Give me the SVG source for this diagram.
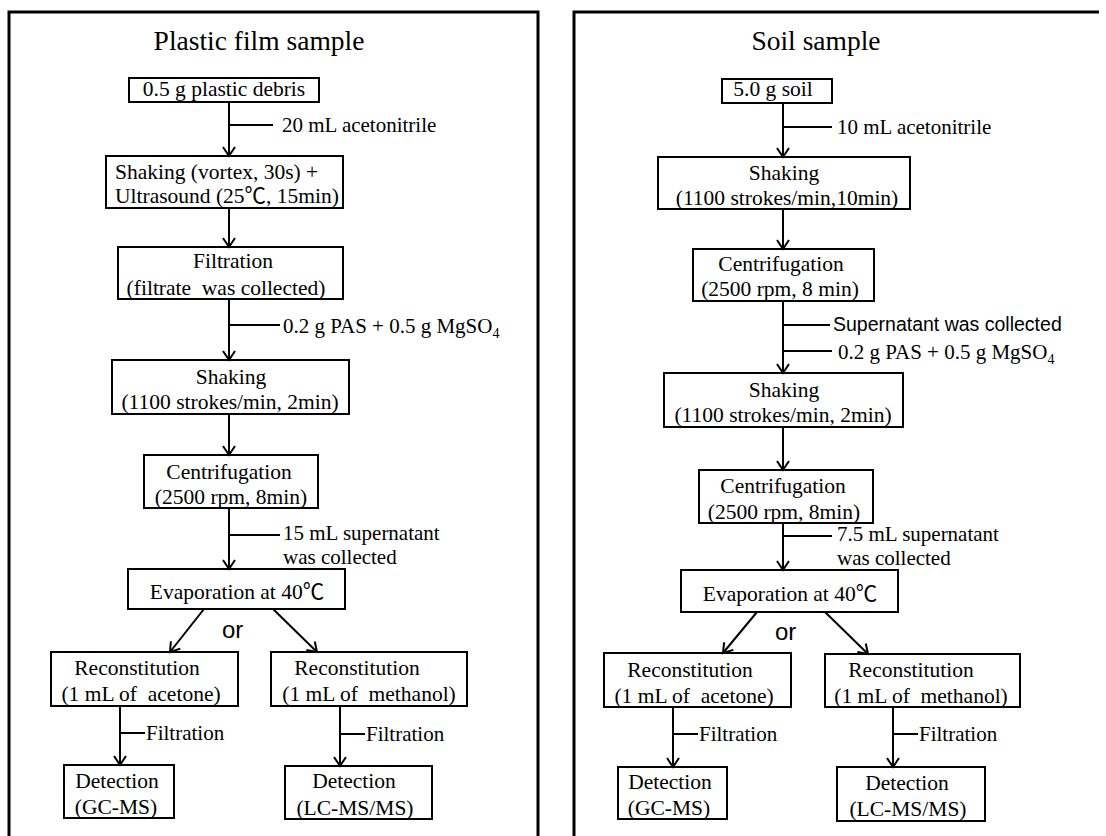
<svg xmlns="http://www.w3.org/2000/svg" width="1106" height="836" viewBox="0 0 1106 836">
<defs>
<style>
.bg{fill:#fff}
.panel{fill:none;stroke:#000;stroke-width:3}
.box{fill:#fff;stroke:#000;stroke-width:2}
.conn{fill:none;stroke:#000;stroke-width:2}
.arr{marker-end:url(#ah)}
text{font-family:"Liberation Serif","Noto Sans CJK SC",serif;font-size:21.5px;fill:#000}
.c{text-anchor:middle}
.lbl{font-size:21px}
.title{font-size:27.5px}
.sans{font-family:"Liberation Sans",sans-serif;font-size:19.5px}
.or{font-family:"Liberation Sans",sans-serif;font-size:24px}
.sub{font-size:14px}
</style>
<marker id="ah" markerUnits="userSpaceOnUse" markerWidth="20" markerHeight="20" viewBox="-10 -10 20 20" refX="0" refY="0" orient="auto" overflow="visible">
<path d="M-9,-6 L0,0 L-9,6" fill="none" stroke="#000" stroke-width="2"/>
</marker>
</defs>
<rect class="bg" x="0" y="0" width="1106" height="836"/>
<g id="panels">
<path class="panel" d="M9,840 V12 H538 V840"/>
<path class="panel" d="M574,840 V12 H1099"/>
<text class="title c" x="259" y="50">Plastic film sample</text>
<text class="title c" x="816" y="50">Soil sample</text>
</g>
<g id="p-debris"><rect class="box" x="129" y="78" width="190" height="24"/><text class="c" x="224" y="96">0.5 g plastic debris</text></g>
<g id="p-shake1"><rect class="box" x="106" y="156" width="237" height="52"/><text x="115" y="179">Shaking (vortex, 30s) +</text><text x="115" y="203">Ultrasound (25℃, 15min)</text></g>
<g id="p-filtration"><rect class="box" x="118" y="247" width="225" height="52"/><text class="c" x="233" y="268">Filtration</text><text class="c" x="226" y="295" xml:space="preserve">(filtrate  was collected)</text></g>
<g id="p-shake2"><rect class="box" x="112" y="360" width="237" height="54"/><text class="c" x="231" y="384">Shaking</text><text class="c" x="230" y="409">(1100 strokes/min, 2min)</text></g>
<g id="p-centri"><rect class="box" x="144" y="455" width="174" height="53"/><text class="c" x="229" y="479">Centrifugation</text><text class="c" x="231" y="504">(2500 rpm, 8min)</text></g>
<g id="p-evap"><rect class="box" x="128" y="569" width="217" height="40"/><text class="c" x="237" y="599">Evaporation at 40℃</text></g>
<g id="p-recon-ace"><rect class="box" x="51" y="652" width="187" height="54"/><text class="c" x="137" y="675">Reconstitution</text><text class="c" x="141" y="701" xml:space="preserve">(1 mL of  acetone)</text></g>
<g id="p-recon-met"><rect class="box" x="271" y="652" width="196" height="54"/><text class="c" x="357" y="675">Reconstitution</text><text class="c" x="369" y="701" xml:space="preserve">(1 mL of  methanol)</text></g>
<g id="p-det-gc"><rect class="box" x="64" y="765" width="110" height="53"/><text class="c" x="117" y="788">Detection</text><text class="c" x="116" y="814">(GC-MS)</text></g>
<g id="p-det-lc"><rect class="box" x="285" y="766" width="147" height="53"/><text class="c" x="354" y="788">Detection</text><text class="c" x="355" y="815">(LC-MS/MS)</text></g>
<g id="s-soil"><rect class="box" x="722" y="79" width="110" height="24"/><text class="c" x="773" y="96">5.0 g soil</text></g>
<g id="s-shake1"><rect class="box" x="658" y="157" width="252" height="52"/><text class="c" x="784" y="180">Shaking</text><text class="c" x="787" y="205">(1100 strokes/min,10min)</text></g>
<g id="s-centri1"><rect class="box" x="693" y="249" width="181" height="52"/><text class="c" x="781" y="271">Centrifugation</text><text class="c" x="780" y="296">(2500 rpm, 8 min)</text></g>
<g id="s-shake2"><rect class="box" x="664" y="373" width="239" height="54"/><text class="c" x="784" y="397">Shaking</text><text class="c" x="783" y="422">(1100 strokes/min, 2min)</text></g>
<g id="s-centri2"><rect class="box" x="699" y="470" width="174" height="53"/><text class="c" x="783" y="493">Centrifugation</text><text class="c" x="784" y="519">(2500 rpm, 8min)</text></g>
<g id="s-evap"><rect class="box" x="681" y="570" width="217" height="42"/><text class="c" x="790" y="601">Evaporation at 40℃</text></g>
<g id="s-recon-ace"><rect class="box" x="604" y="653" width="187" height="54"/><text class="c" x="690" y="677">Reconstitution</text><text class="c" x="694" y="703" xml:space="preserve">(1 mL of  acetone)</text></g>
<g id="s-recon-met"><rect class="box" x="825" y="654" width="195" height="53"/><text class="c" x="911" y="677">Reconstitution</text><text class="c" x="921" y="703" xml:space="preserve">(1 mL of  methanol)</text></g>
<g id="s-det-gc"><rect class="box" x="618" y="767" width="109" height="52"/><text class="c" x="670" y="789">Detection</text><text class="c" x="669" y="815">(GC-MS)</text></g>
<g id="s-det-lc"><rect class="box" x="837" y="767" width="148" height="54"/><text class="c" x="907" y="790">Detection</text><text class="c" x="908" y="816">(LC-MS/MS)</text></g>
<g id="connectors">
<path class="conn arr" d="M229,102 V156"/>
<path class="conn" d="M229,125 H273"/>
<path class="conn arr" d="M229,208 V247"/>
<path class="conn arr" d="M229,299 V360"/>
<path class="conn" d="M229,325 H280"/>
<path class="conn arr" d="M229,414 V455"/>
<path class="conn arr" d="M229,508 V569"/>
<path class="conn" d="M229,535 H280"/>
<path class="conn arr" d="M204,609 L170,652"/>
<path class="conn arr" d="M273,609 L317,652"/>
<path class="conn arr" d="M120,706 V765"/>
<path class="conn" d="M120,733 H145"/>
<path class="conn arr" d="M340,706 V766"/>
<path class="conn" d="M340,734 H365"/>
<path class="conn arr" d="M783,103 V157"/>
<path class="conn" d="M783,127 H832"/>
<path class="conn arr" d="M783,209 V249"/>
<path class="conn arr" d="M783,301 V373"/>
<path class="conn" d="M783,325 H830"/>
<path class="conn" d="M783,351 H832"/>
<path class="conn arr" d="M783,427 V470"/>
<path class="conn arr" d="M783,523 V570"/>
<path class="conn" d="M783,536 H832"/>
<path class="conn arr" d="M757,612 L723,653"/>
<path class="conn arr" d="M825,612 L868,654"/>
<path class="conn arr" d="M673,707 V767"/>
<path class="conn" d="M673,734 H698"/>
<path class="conn arr" d="M893,707 V767"/>
<path class="conn" d="M893,734 H918"/>
<text class="lbl" x="282" y="132">20 mL acetonitrile</text>
<text class="lbl" x="283" y="333">0.2 g PAS + 0.5 g MgSO<tspan class="sub" dy="5">4</tspan></text>
<text class="lbl" x="283" y="540">15 mL supernatant</text>
<text class="lbl" x="283" y="564">was collected</text>
<text class="or" x="222" y="638">or</text>
<text class="lbl" x="146" y="740">Filtration</text>
<text class="lbl" x="366" y="741">Filtration</text>
<text class="lbl" x="837" y="134">10 mL acetonitrile</text>
<text class="sans" x="833" y="331">Supernatant was collected</text>
<text class="lbl" x="838" y="359">0.2 g PAS + 0.5 g MgSO<tspan class="sub" dy="5">4</tspan></text>
<text class="lbl" x="837" y="541">7.5 mL supernatant</text>
<text class="lbl" x="837" y="565">was collected</text>
<text class="or" x="775" y="640">or</text>
<text class="lbl" x="699" y="741">Filtration</text>
<text class="lbl" x="919" y="741">Filtration</text>
</g>
</svg>
